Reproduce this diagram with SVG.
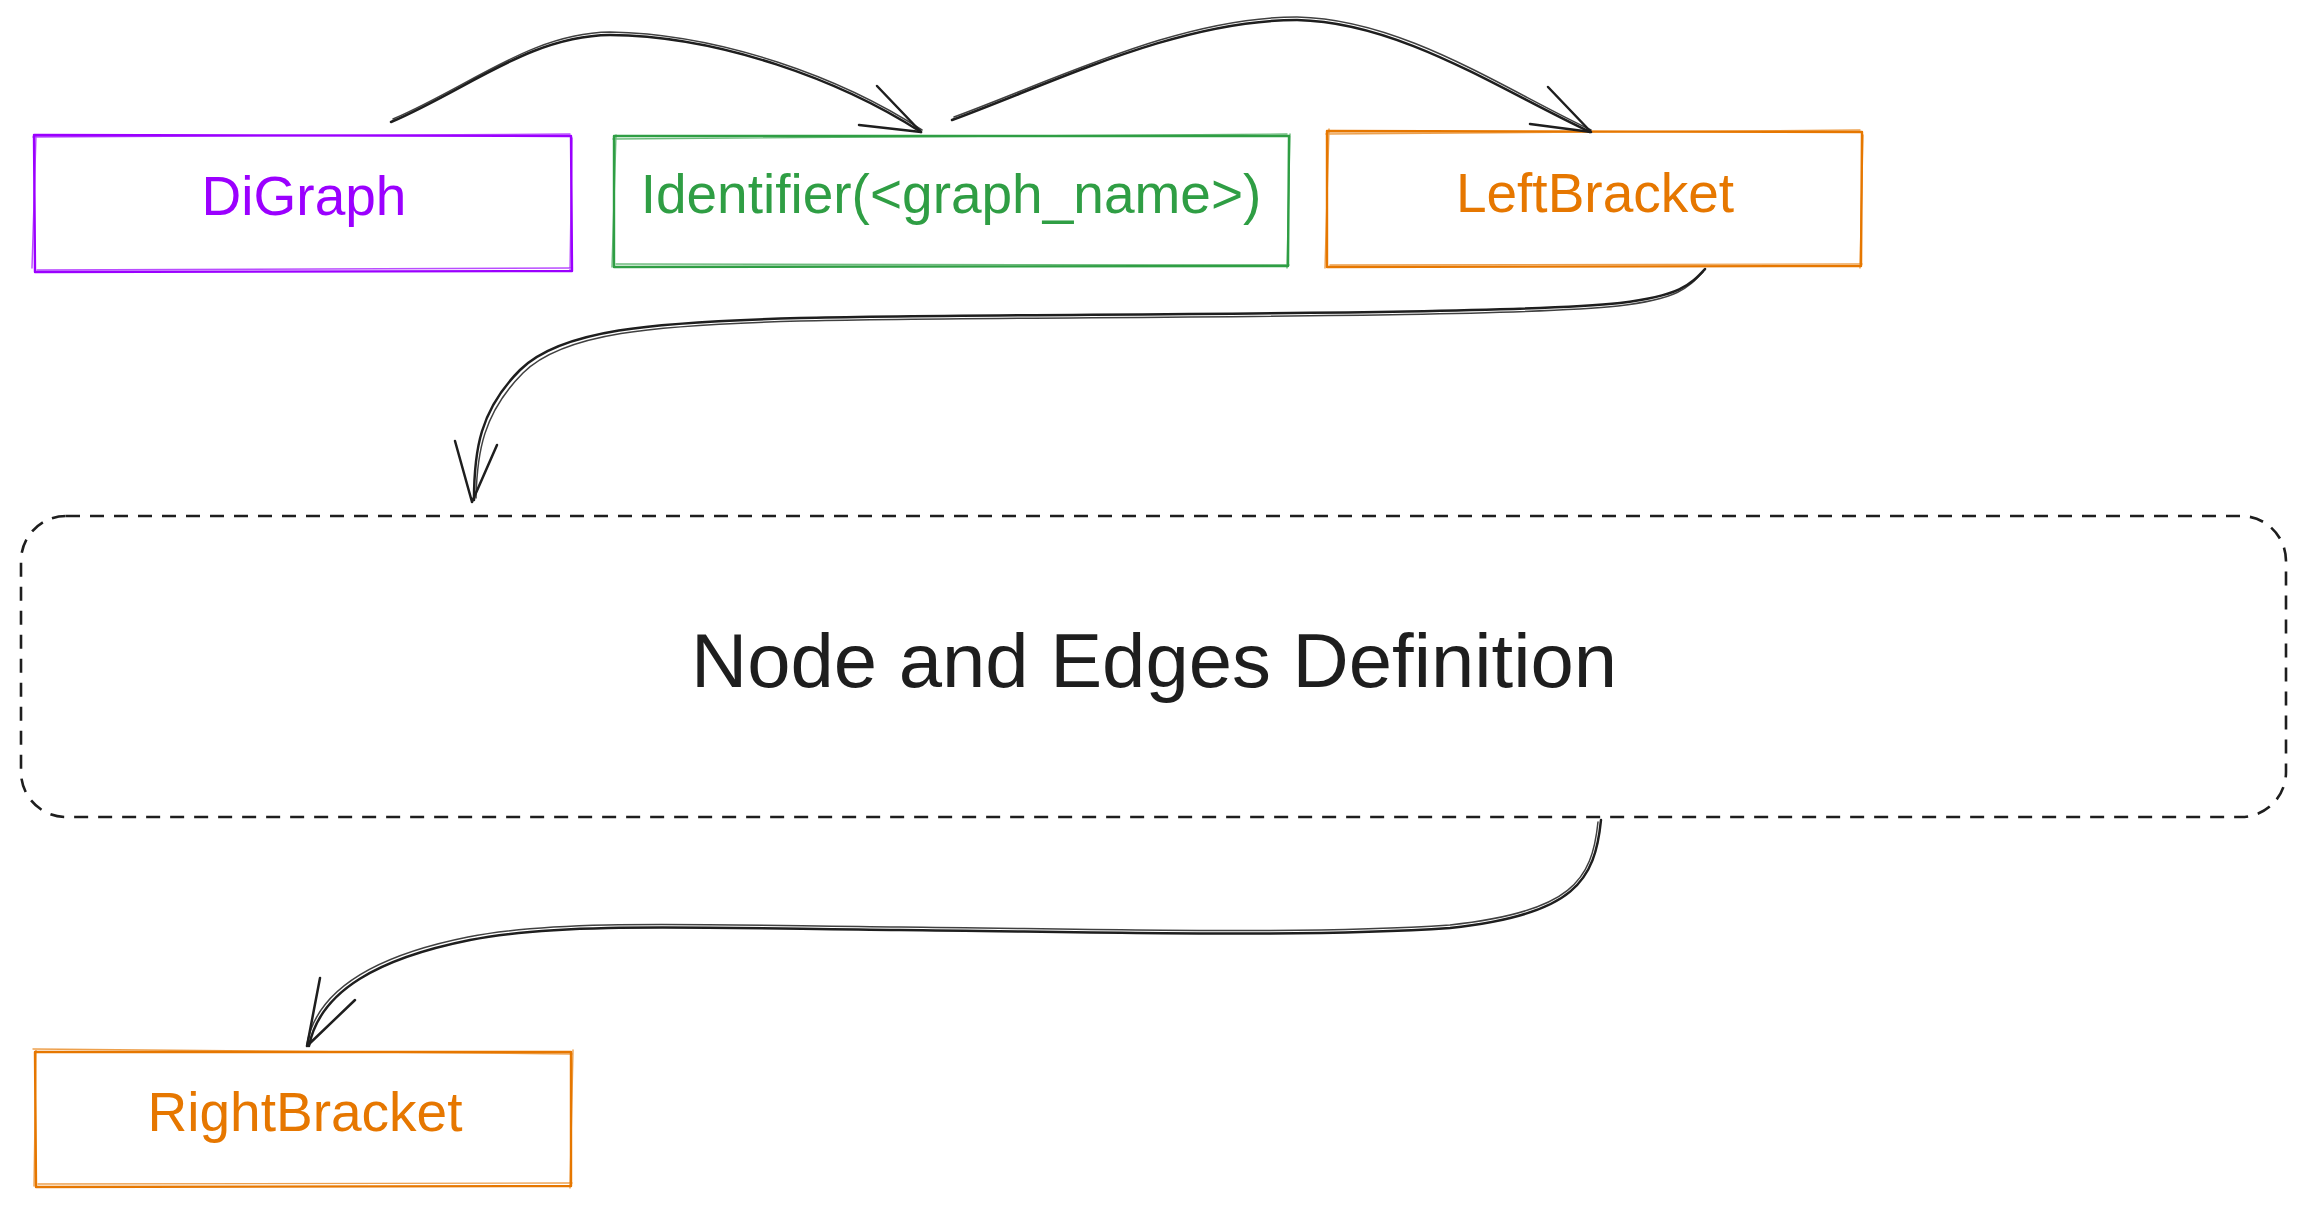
<svg xmlns="http://www.w3.org/2000/svg" width="2304" height="1207" viewBox="0 0 2304 1207">
<style>
.lbl{font-family:"Liberation Sans",Arial,Helvetica,sans-serif;font-size:55px;text-anchor:middle}
.hand{font-family:"Liberation Sans",Arial,sans-serif;font-size:76px;fill:#1e1e1e;text-anchor:start}
.edge{fill:none;stroke:#1e1e1e;stroke-width:2.5;stroke-linecap:round;stroke-linejoin:round}
.edge2{fill:none;stroke:#1e1e1e;stroke-width:1.5;stroke-linecap:round;opacity:0.85}
.box{fill:none;stroke-width:2.4;stroke-linecap:round;stroke-linejoin:round}
.box2{fill:none;stroke-width:1.4;stroke-linecap:round;opacity:0.7}
.purple{stroke:#9b00ff}
.green{stroke:#2f9e44}
.orange{stroke:#e67700}
</style>
<rect width="2304" height="1207" fill="#ffffff"/>

<g id="node-digraph">
<path class="box purple" d="M34,135 L571,136 L572,271 L35,272 Z"/>
<path class="box2 purple" d="M33,137 L570,134 M572,138 L570,270 M32,268 L36,136 M37,270 L571,268"/>
<text class="lbl" x="304" y="215" fill="#9b00ff">DiGraph</text>
</g>

<g id="node-identifier">
<path class="box green" d="M614,136 L1289,136 L1288,266 L614,267 Z"/>
<path class="box2 green" d="M613,139 L1287,134 M1290,134 L1287,268 M612,267 L616,135 M616,264 L1289,265"/>
<text class="lbl" x="951" y="213" fill="#2f9e44">Identifier(&lt;graph_name&gt;)</text>
</g>

<g id="node-leftbracket">
<path class="box orange" d="M1327,131 L1862,132 L1861,266 L1327,267 Z"/>
<path class="box2 orange" d="M1326,134 L1860,130 M1863,135 L1860,268 M1325,268 L1329,129 M1330,265 L1862,264"/>
<text class="lbl" x="1595" y="212" fill="#e67700">LeftBracket</text>
</g>

<g id="node-definition">
<rect x="21" y="516" width="2265" height="301" rx="45" ry="45" fill="none" stroke="#1e1e1e" stroke-width="2.6" stroke-dasharray="14 10"/>
<text class="hand" x="691" y="687" textLength="926" lengthAdjust="spacingAndGlyphs">Node and Edges Definition</text>
</g>

<g id="node-rightbracket">
<path class="box orange" d="M35,1052 L571,1052 L571,1186 L36,1187 Z"/>
<path class="box2 orange" d="M33,1049 L572,1054 M573,1050 L570,1188 M34,1186 L36,1050 M38,1184 L572,1183"/>
<text class="lbl" x="305" y="1131" fill="#e67700">RightBracket</text>
</g>

<g id="connectors">
<!-- DiGraph -> Identifier -->
<path class="edge" d="M391,122 C470,88 530,36 610,35 C720,36 840,80 921,132"/>
<path class="edge2" d="M393,119 C472,85 532,33 610,32 C722,34 842,78 922,130"/>
<path class="edge" d="M877,86 L921,132 M859,125 L921,132"/>
<!-- Identifier -> LeftBracket -->
<path class="edge" d="M952,120 C1060,80 1180,20 1297,20 C1400,22 1500,90 1590,132"/>
<path class="edge2" d="M954,117 C1062,77 1182,17 1297,17 C1402,19 1502,88 1591,130"/>
<path class="edge" d="M1548,87 L1591,132 M1530,124 L1591,132"/>
<!-- LeftBracket -> Definition -->
<path class="edge" d="M1705,269 C1690,285 1680,296 1620,303 C1500,316 1000,313 800,318 C650,322 560,330 520,370 C480,410 474,450 474,500"/>
<path class="edge2" d="M1703,272 C1688,288 1678,299 1618,306 C1498,319 998,316 800,321 C652,325 563,333 523,373 C483,413 477,453 476,498"/>
<path class="edge" d="M455,441 L472,502 M497,445 L472,502"/>
<!-- Definition -> RightBracket -->
<path class="edge" d="M1601,820 C1595,880 1575,915 1450,928 C1300,938 1100,932 900,930 C700,928 560,922 470,940 C380,958 320,990 309,1046"/>
<path class="edge2" d="M1598,822 C1592,880 1572,912 1450,925 C1300,935 1100,929 900,927 C700,925 558,919 468,937 C378,955 317,988 307,1044"/>
<path class="edge" d="M320,978 L307,1046 M355,1000 L307,1046"/>
</g>
</svg>
